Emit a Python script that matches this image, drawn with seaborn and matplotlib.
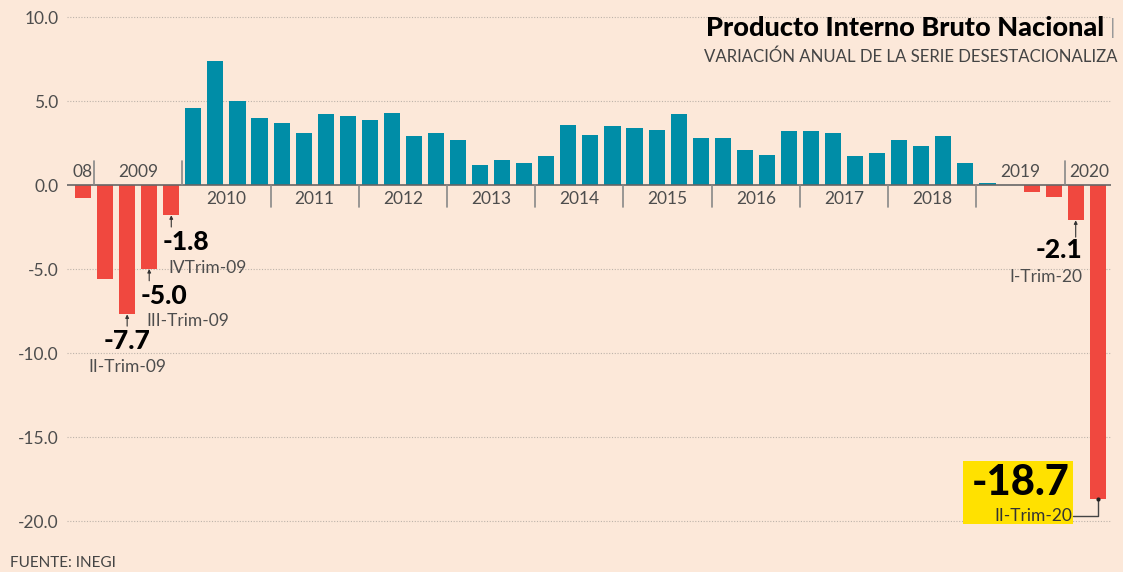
import matplotlib
matplotlib.use("Agg")
import matplotlib.pyplot as plt
import matplotlib.patches as mpatches
import numpy as np
import pandas as pd
import seaborn as sns

# ---------------------------------------------------------------------------
# Data: variación anual del PIB (serie desestacionalizada), 2008-IV a 2020-II
# ---------------------------------------------------------------------------
quarters = ["2008-IV"] + [f"{y}-{q}" for y in range(2009, 2020) for q in ["I", "II", "III", "IV"]] + ["2020-I", "2020-II"]
values = [
    -0.8,
    -5.6, -7.7, -5.0, -1.8,   # 2009
    4.6, 7.4, 5.0, 4.0,       # 2010
    3.7, 3.1, 4.2, 4.1,       # 2011
    3.9, 4.3, 2.9, 3.1,       # 2012
    2.7, 1.2, 1.5, 1.3,       # 2013
    1.7, 3.6, 3.0, 3.5,       # 2014
    3.4, 3.3, 4.2, 2.8,       # 2015
    2.8, 2.1, 1.8, 3.2,       # 2016
    3.2, 3.1, 1.7, 1.9,       # 2017
    2.7, 2.3, 2.9, 1.3,       # 2018
    0.1, 0.0, -0.4, -0.7,     # 2019
    -2.1, -18.7,              # 2020
]
years_above = ["08", "2009", "2019", "2020"]
years_below = [str(y) for y in range(2010, 2019)]

# highlighted quarters: (index, label)
callouts = [(2, "II-Trim-09"), (3, "III-Trim-09"), (4, "IVTrim-09"), (45, "I-Trim-20")]
big_idx, big_label = 46, "II-Trim-20"

BG = "#FCE8D9"
TEAL = "#008DA7"
RED = "#F0483F"
YELLOW = "#FFE100"
GREY = "#4d4d4d"

sns.set_theme(style="white")
plt.rcParams["font.family"] = ["Lato", "DejaVu Sans"]
plt.rcParams["axes.unicode_minus"] = False

df = pd.DataFrame({"trimestre": quarters, "var": values})
df["signo"] = np.where(df["var"] >= 0, "pos", "neg")

fig = plt.figure(figsize=(11.23, 5.72), dpi=100, facecolor=BG)
ax = fig.add_axes([0.0597, 0.0451, 0.930, 0.9486])
ax.set_facecolor(BG)

sns.barplot(data=df, x="trimestre", y="var", hue="signo", palette={"pos": TEAL, "neg": RED},
            dodge=False, width=0.73, legend=False, saturation=1, linewidth=0, ax=ax, zorder=3)

n = len(values)
ax.set_xlim(-0.725, n - 0.38)
ax.set_ylim(-21.5, 10.8)
ticks = [10, 5, 0, -5, -10, -15, -20]
ax.set_yticks(ticks)
ax.set_yticklabels([f"{t:.1f}" for t in ticks], color=GREY, fontsize=12.5)
ax.tick_params(axis="y", length=0, pad=6)
ax.set_xticks([])
ax.set_xlabel("")
ax.set_ylabel("")
for s in ax.spines.values():
    s.set_visible(False)

for t in [10, 5, -5, -10, -15, -20]:
    ax.axhline(t, color="#bdb3aa", lw=0.8, ls=(0, (1, 1.5)), zorder=1)
ax.axhline(0, color="#666666", lw=1.2, zorder=4)

# year labels and separators
above_pos = [0, 2.5, 42.5, 45.6]
for lab, xp in zip(years_above, above_pos):
    ax.text(xp, 0.77, lab, ha="center", va="center", fontsize=12.5, color=GREY)
for xp in [0.5, 4.5, 44.5]:
    ax.plot([xp, xp], [0, 1.45], color="#888", lw=1.2, zorder=4)
for k, lab in enumerate(years_below):
    ax.text(6.5 + 4 * k, -0.85, lab, ha="center", va="center", fontsize=12.5, color=GREY)
for xp in np.arange(8.5, 41, 4):
    ax.plot([xp, xp], [0, -1.3], color="#888", lw=1.2, zorder=4)

# callouts
offsets = {2: (0.0, "center"), 3: (-0.37, "left"), 4: (-0.38, "left"), 45: (0.3, "right")}
for i, lab in callouts:
    v = values[i]
    ax.annotate("", xy=(i, v), xytext=(i, v - (1.0 if i == 45 else 0.7)),
                arrowprops=dict(arrowstyle="-|>", lw=0.8, color="#333", mutation_scale=5, shrinkA=0, shrinkB=0))
    dx, ha = offsets[i]
    ax.text(i + dx, v - (1.75 if i == 45 else 1.6), f"{v:.1f}", ha=ha, va="center",
            fontsize=19, fontweight="black", color="black")
    dx2 = dx + (0.25 if ha == "left" else 0.0)
    ax.text(i + dx2, v - (3.4 if i == 45 else 3.12), lab, ha=ha, va="center",
            fontsize=12.5, color=GREY)

# big callout -18.7
v = values[big_idx]
ax.add_patch(mpatches.Rectangle((39.9, -20.18), 5.0, 3.75, facecolor=YELLOW, edgecolor="none", zorder=5))
ax.text(42.5, v + 0.95, f"{v:.1f}", ha="center", va="center", fontsize=30, fontweight="black", color="black", zorder=6)
ax.text(44.85, v - 1.0, big_label, ha="right", va="center", fontsize=12.5, color="#333", zorder=6)
ax.plot([big_idx, big_idx, 44.9], [v, v - 1.0, v - 1.0], color="#444", lw=1.0, zorder=6)
ax.plot([big_idx], [v], marker="o", ms=2, color="#222", zorder=6)

# titles
fig.text(0.983, 0.951, "Producto Interno Bruto Nacional", ha="right", va="center",
         fontsize=19.5, fontweight="black", color="black")
fig.text(0.993, 0.951, "|", ha="right", va="center", fontsize=16, color="#999")
fig.text(0.995, 0.900, "VARIACIÓN ANUAL DE LA SERIE DESESTACIONALIZA", ha="right", va="center",
         fontsize=12.1, color="#444")
fig.text(0.009, 0.016, "FUENTE: INEGI", ha="left", va="center", fontsize=11, color="#444")

fig.savefig("out.png", dpi=100, facecolor=BG)
